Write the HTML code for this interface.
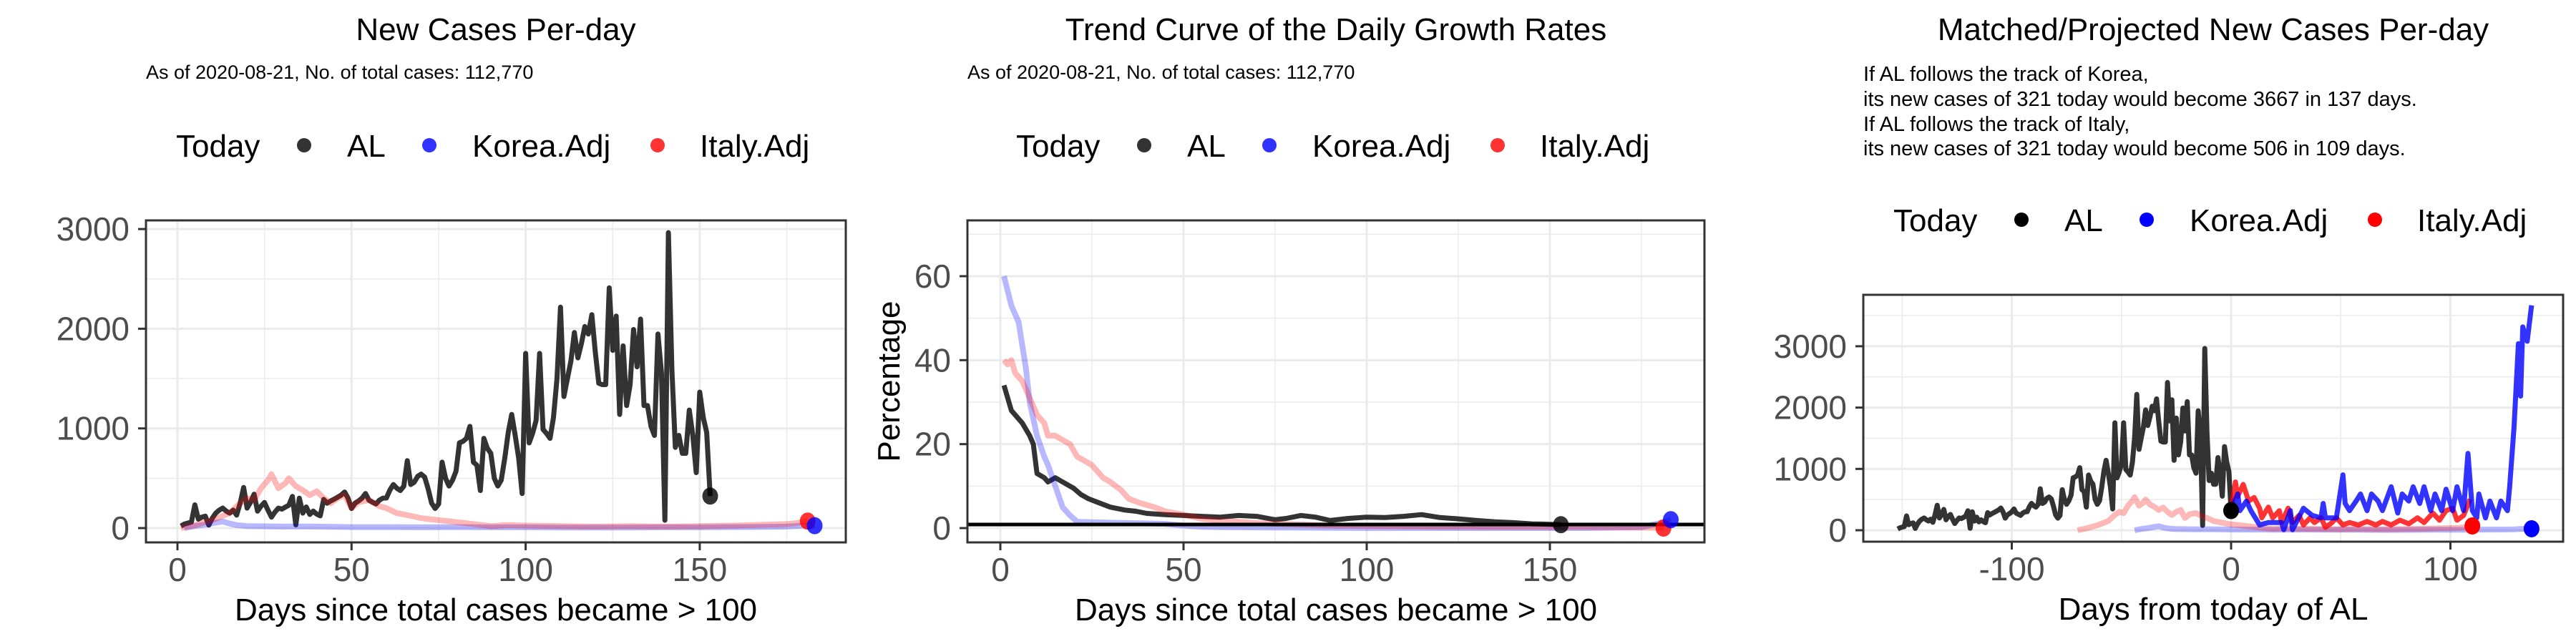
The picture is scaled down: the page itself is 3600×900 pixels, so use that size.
<!DOCTYPE html>
<html><head><meta charset="utf-8"><title>AL charts</title>
<style>
html,body{margin:0;padding:0;background:#fff;width:3600px;height:900px;overflow:hidden}
svg{display:block;font-family:"Liberation Sans",Arial,sans-serif}
</style></head>
<body>
<svg id="root" width="3600" height="900" viewBox="0 0 3600 900" xmlns="http://www.w3.org/2000/svg">
  <g>
    <text x="693" y="56" font-size="44" text-anchor="middle">New Cases Per-day</text>
    <text x="204" y="110" font-size="27">As of 2020-08-21, No. of total cases: 112,770</text>
  </g>
  <g>
    <text x="1867" y="56" font-size="44" text-anchor="middle">Trend Curve of the Daily Growth Rates</text>
    <text x="1352" y="110" font-size="27">As of 2020-08-21, No. of total cases: 112,770</text>
  </g>
  <g>
    <text x="3093" y="56" font-size="44" text-anchor="middle">Matched/Projected New Cases Per-day</text>
    <text x="2604" y="113" font-size="29">If AL follows the track of Korea,</text>
    <text x="2604" y="148" font-size="29">its new cases of 321 today would become 3667 in 137 days.</text>
    <text x="2604" y="183" font-size="29">If AL follows the track of Italy,</text>
    <text x="2604" y="217" font-size="29">its new cases of 321 today would become 506 in 109 days.</text>
  </g>
</svg>
<script>
// ---------- data ----------
const alNew = [20,40,50,60,233,90,110,120,30,100,
150,180,200,170,150,180,130,250,407,200,
260,340,170,220,257,180,110,160,200,190,
210,230,317,33,300,150,212,137,170,140,
123,287,250,272,290,310,330,362,300,197,
250,272,300,347,280,260,242,280,300,302,
380,437,400,377,420,676,437,460,520,541,
511,392,250,197,242,661,500,422,480,571,
855,870,900,1020,661,631,377,900,800,750,
500,422,481,700,960,1140,930,700,347,1752,
855,950,1080,1752,990,950,900,1110,1500,2216,
1320,1500,1678,1962,1708,1850,2022,1947,2141,1768,
1453,1439,1439,2410,1783,2127,1140,1828,1229,1439,
1992,1618,2097,1229,1229,1020,930,1947,1558,78,
2964,1588,810,930,750,750,1184,930,556,1364,
1110,960,321];
const koreaDays = [2,5,9,11,13,15,17,20,25,30,35,40,45,50,60,70,80,90,100,110,120,130,140,150,160,170,175,180,183];
const koreaVals = [0,20,40,55,65,45,30,20,18,15,16,15,12,10,10,8,10,8,8,6,5,6,8,7,10,12,15,25,24];
const italyDays = [1,5,10,15,18,20,22,24,26,27,29,31,32,34,36,38,40,42,44,46,48,50,52,55,58,60,63,66,70,75,80,85,90,95,100,110,120,130,140,150,160,170,175,178,181];
const italyVals = [0,30,80,150,250,300,280,400,480,540,400,450,500,420,380,330,370,300,250,300,330,200,260,280,220,200,150,130,100,80,60,40,20,30,25,20,15,20,15,20,25,35,40,50,70];

const alRateDays = [1,3,6,8,9,10,12,13,15,17,20,22,24,27,30,34,37,40,45,50,55,60,65,70,75,78,82,86,90,95,100,105,110,115,120,125,130,135,140,145,150,153];
const alRateVals = [34,28,25,22,20,13,12,11,12,11,9.5,8,7,6,5,4.3,4,3.5,3.2,3,2.8,2.6,3,2.8,2,2.3,3,2.6,1.8,2.3,2.6,2.5,2.8,3.2,2.5,2.2,1.8,1.5,1.3,1,0.9,0.8];
const koreaRateDays = [1,3,5,7,8,10,12,13,15,17,19,21,25,30,40,45,50,55,60,80,100,120,140,160,175,180,183];
const koreaRateVals = [60,53,49,38,30,22,17,15,10,5,3,1.5,1.4,1.3,1.1,1,0.6,0.3,0.2,0.1,0,0,0,0,0.2,1.2,2];
const italyRateDays = [1,2,3,4,6,8,10,12,13,15,17,19,21,23,25,28,30,33,35,38,42,45,50,55,60,70,80,90,100,120,140,160,175,181];
const italyRateVals = [40,39,40,37,35,31,27,25,22,22,21,20,17,16,15,12,11,9,7,6,5,4,3.2,2.2,1.8,1.2,0.9,0.6,0.5,0.3,0.2,0.2,0.1,0];
const refLine = 0.85;

const italyProjDays = [0,2,3,5.5,8,10.5,13,14,17,19,22,23,26,28,31,33,36,38,41,43,46,48,51,54,58,62,66,69,73,77,81,85,88,92,95,98,101,103,106,109];
const italyProjVals = [320,786,552,747,475,533,358,202,377,202,319,125,358,125,241,86,202,125,202,47,125,202,86,125,86,144,86,144,86,163,105,202,125,280,163,320,358,163,241,506];
const koreaProjDays = [0,3,4,7,9,13,17,23,24,27,28,33,37,41,42,43,48,51,52,54,57,59,62,64,67,69,73,76,78,81,83,86,88,91,93,96,98,101,103,106,108,110,112,113,116,118,121,123,126,127,129,131,132,133,135,137];
const koreaProjVals = [320,590,320,475,320,86,125,125,8,320,8,358,241,202,436,202,202,903,436,320,475,591,320,591,475,320,708,280,591,475,708,436,708,320,591,320,669,320,708,320,1253,320,202,591,202,475,202,475,320,708,1681,3043,2187,3315,3082,3667];
const alTodayShift = 153, koreaShift = 46, italyShift = 71;

const p1XTicks = [0,50,100,150], p1XMinor = [25,75,125,175];
const p1YTicks = [0,1000,2000,3000], p1YMinor = [500,1500,2500];
const p2XTicks = [0,50,100,150], p2XMinor = [25,75,125,175];
const p2YTicks = [0,20,40,60], p2YMinor = [10,30,50,70];
const p3XTicks = [-100,0,100], p3XMinor = [-150,-50,50];
const p3YTicks = [0,1000,2000,3000], p3YMinor = [500,1500,2500,3500];

// ---------- helpers ----------
const NS = "http://www.w3.org/2000/svg";
const root = document.getElementById('root');
function mk(tag, attrs, parent){ const e=document.createElementNS(NS,tag); for(const k in attrs) e.setAttribute(k,attrs[k]); (parent||root).appendChild(e); return e; }

function panel(P){
  const g = mk('g',{});
  
  
  const X = v => P.x0 + (v - P.xv0) * P.kx;
  const Y = v => P.y0 - v * P.ky;
  mk('rect',{x:P.L,y:P.T,width:P.R-P.L,height:P.B-P.T,fill:'#fff'},g);
  P.yMinor.forEach(v=>{ const l=mk('line',{x1:P.L,x2:P.R,y1:Y(v),y2:Y(v),stroke:'#ebebeb','stroke-width':1.5},g);
      });
  P.xMinor.forEach(v=>{ if(X(v)<P.L||X(v)>P.R) return; const l=mk('line',{x1:X(v),x2:X(v),y1:P.T,y2:P.B,stroke:'#ebebeb','stroke-width':1.5},g);
      });
  P.yTicks.forEach(v=>{ const l=mk('line',{x1:P.L,x2:P.R,y1:Y(v),y2:Y(v),stroke:'#ebebeb','stroke-width':3},g);
     
    const t=mk('line',{x1:P.L-11,x2:P.L,y1:Y(v),y2:Y(v),stroke:'#333','stroke-width':3},g);
     
    const tx=mk('text',{x:P.L-23,y:Y(v)+16,'font-size':46,'text-anchor':'end',fill:'#4d4d4d'},g); tx.textContent=v;
      });
  P.xTicks.forEach(v=>{ const l=mk('line',{x1:X(v),x2:X(v),y1:P.T,y2:P.B,stroke:'#ebebeb','stroke-width':3},g);
     
    const t=mk('line',{x1:X(v),x2:X(v),y1:P.B,y2:P.B+11,stroke:'#333','stroke-width':3},g);
     
    const tx=mk('text',{x:X(v),y:P.B+54,'font-size':46,'text-anchor':'middle',fill:'#4d4d4d'},g); tx.textContent=v;
      });
  const clipId='clip'+P.name;
  const cp=mk('clipPath',{id:clipId},g); mk('rect',{x:P.L,y:P.T,width:P.R-P.L,height:P.B-P.T},cp);
  const plot=mk('g',{'clip-path':'url(#'+clipId+')'},g);
  P.series.forEach(s=>{
    const pts=s.days.map((d,i)=>X(d+(s.shift||0)).toFixed(1)+','+Y(s.vals[i]).toFixed(1)).join(' ');
    const pl=mk('polyline',{points:pts,fill:'none',stroke:s.color,'stroke-width':s.w||7,'stroke-linejoin':'round','stroke-linecap':'butt'},plot);
    
    
  });
  if(P.hline!==undefined){ const h=mk('line',{x1:P.L,x2:P.R,y1:Y(P.hline),y2:Y(P.hline),stroke:'#000','stroke-width':5},plot);
      }
  P.dots.forEach(d=>{ const c=mk('ellipse',{cx:X(d.x),cy:Y(d.y),rx:11,ry:12,fill:d.color},plot);
    
     });
  mk('rect',{x:P.L,y:P.T,width:P.R-P.L,height:P.B-P.T,fill:'none',stroke:'#333','stroke-width':3},g);
  const xt=mk('text',{x:(P.L+P.R)/2,y:P.xTitleY,'font-size':44,'text-anchor':'middle',fill:'#000'},g); xt.textContent=P.xTitle;
   
  if(P.yTitle){ const yt=mk('text',{x:0,y:0,'font-size':44,'text-anchor':'middle',fill:'#000',transform:'translate('+(P.L-95)+','+((P.T+P.B)/2)+') rotate(-90)'},g); yt.textContent=P.yTitle;
      }
  // legend
  const lg=mk('g',{},g);
  
  
  const lx=(P.L+P.R)/2-447, ly=P.legendY;
  const t0=mk('text',{x:lx,y:ly+16,'font-size':44},lg); t0.textContent='Today';
   
  const items=[['AL',P.legCols[0],179,239],['Korea.Adj',P.legCols[1],354,414],['Italy.Adj',P.legCols[2],673,732]];
  items.forEach(it=>{
    const c=mk('ellipse',{cx:lx+it[2],cy:ly,rx:10,ry:10,fill:it[1]},lg);
    
    
    const t=mk('text',{x:lx+it[3],y:ly+16,'font-size':44},lg); t.textContent=it[0];
    
    
  });
}

const alDays = alNew.map((v,i)=>i+1);
const AL='rgba(0,0,0,0.8)', KB='rgba(0,0,255,0.28)', IR='rgba(255,0,0,0.28)';

panel({name:'chart-new-cases',L:204,R:1182,T:308,B:758,x0:248,xv0:0,kx:4.866,y0:738,ky:0.1393,
  xTicks:p1XTicks,xMinor:p1XMinor,yTicks:p1YTicks,yMinor:p1YMinor,
  xTitle:'Days since total cases became > 100',xTitleY:867,legendY:203,
  legCols:['rgba(0,0,0,0.8)','rgba(0,0,255,0.8)','rgba(255,0,0,0.8)'],
  series:[{name:'line-al',days:alDays,vals:alNew,color:AL},
          {name:'line-korea-adj',days:koreaDays,vals:koreaVals,color:KB,w:8},
          {name:'line-italy-adj',days:italyDays,vals:italyVals,color:IR,w:8}],
  dots:[{name:'today-al',x:alDays[alDays.length-1],y:alNew[alNew.length-1],color:'rgba(0,0,0,0.8)'},
        {name:'today-italy',x:italyDays[italyDays.length-1],y:italyVals[italyVals.length-1],color:'rgba(255,0,0,0.8)'},
        {name:'today-korea',x:koreaDays[koreaDays.length-1],y:koreaVals[koreaVals.length-1],color:'rgba(0,0,255,0.8)'}]});

panel({name:'chart-growth-rates',L:1352,R:2382,T:308,B:758,x0:1398,xv0:0,kx:5.12,y0:738,ky:5.867,
  xTicks:p2XTicks,xMinor:p2XMinor,yTicks:p2YTicks,yMinor:p2YMinor,hline:refLine,
  xTitle:'Days since total cases became > 100',xTitleY:867,yTitle:'Percentage',legendY:203,
  legCols:['rgba(0,0,0,0.8)','rgba(0,0,255,0.8)','rgba(255,0,0,0.8)'],
  series:[{name:'rate-al',days:alRateDays,vals:alRateVals,color:AL},
          {name:'rate-korea-adj',days:koreaRateDays,vals:koreaRateVals,color:KB,w:8},
          {name:'rate-italy-adj',days:italyRateDays,vals:italyRateVals,color:IR,w:8}],
  dots:[{name:'today-al',x:alRateDays[alRateDays.length-1],y:alRateVals[alRateVals.length-1],color:'rgba(0,0,0,0.8)'},
        {name:'today-italy',x:italyRateDays[italyRateDays.length-1],y:italyRateVals[italyRateVals.length-1],color:'rgba(255,0,0,0.8)'},
        {name:'today-korea',x:koreaRateDays[koreaRateDays.length-1],y:koreaRateVals[koreaRateVals.length-1],color:'rgba(0,0,255,0.8)'}]});

panel({name:'chart-projected',L:2604,R:3582,T:412,B:757,x0:3118,xv0:0,kx:3.065,y0:741,ky:0.0857,
  xTicks:p3XTicks,xMinor:p3XMinor,yTicks:p3YTicks,yMinor:p3YMinor,
  xTitle:'Days from today of AL',xTitleY:866,legendY:307,
  legCols:['#000','#00f','#f00'],
  series:[{name:'line-al-history',days:alDays,vals:alNew,color:AL,shift:-alTodayShift},
          {name:'line-korea-matched',days:koreaDays,vals:koreaVals,color:KB,w:8,shift:-koreaShift},
          {name:'line-italy-matched',days:italyDays,vals:italyVals,color:IR,w:8,shift:-italyShift},
          {name:'line-italy-projected',days:italyProjDays,vals:italyProjVals,color:'rgba(255,0,0,0.8)'},
          {name:'line-korea-projected',days:koreaProjDays,vals:koreaProjVals,color:'rgba(0,0,255,0.8)'}],
  dots:[{name:'today-al',x:0,y:alNew[alNew.length-1],color:'#000'},
        {name:'end-italy',x:italyDays[italyDays.length-1]-italyShift,y:italyVals[italyVals.length-1],color:'#f00'},
        {name:'end-korea',x:koreaDays[koreaDays.length-1]-koreaShift,y:koreaVals[koreaVals.length-1],color:'#00f'}]});
</script>
</body></html>
